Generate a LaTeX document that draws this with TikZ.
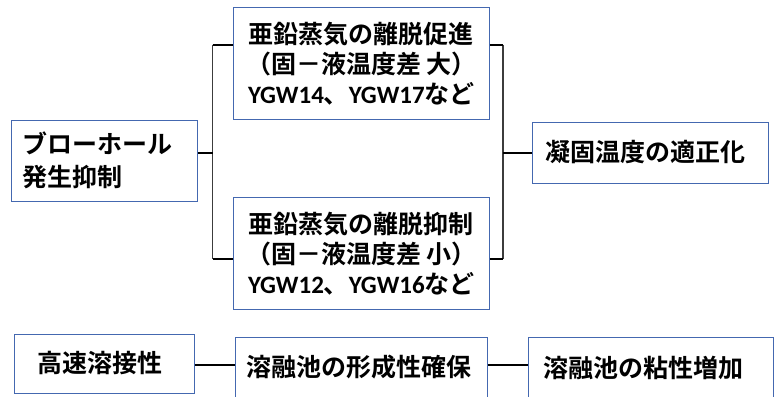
\documentclass[tikz,border=0pt]{standalone}
\usepackage{fontspec}
\setmainfont{Noto Sans CJK JP}[BoldFont={* Bold}]
\newfontfamily\lat{Carlito}[BoldFont={* Bold}]
\definecolor{boxblue}{RGB}{68,104,176}
\definecolor{vline}{RGB}{60,60,60}
\tikzset{
  box/.style={draw=boxblue, line width=1pt, rectangle, inner sep=0pt, font=\fontsize{25}{30}\selectfont\bfseries},
  stub/.style={line width=2pt, black},
  vbar/.style={line width=1.1pt, vline},
}
\begin{document}
\begin{tikzpicture}[x=1pt,y=-1pt]
\useasboundingbox (0,0) rectangle (781,396);
\clip (0,0) rectangle (781,396);
% boxes
\node[box, minimum width=186.5, minimum height=80.5, text width=164, align=left] (L) at (104.25,160.75)
  {ブローホール\\[3pt]発生抑制};
\node[box, minimum width=256, minimum height=111.7, align=center] (T) at (361.4,63.2)
  {亜鉛蒸気の離脱促進\\（固－液温度差 大）\\{\lat\bfseries YGW14}、{\lat\bfseries YGW17}など};
\node[box, minimum width=256, minimum height=111.7, align=center] (B) at (361.4,253.2)
  {亜鉛蒸気の離脱抑制\\（固－液温度差 小）\\{\lat\bfseries YGW12}、{\lat\bfseries YGW16}など};
\node[box, minimum width=236, minimum height=61] (R) at (650,152.5) {凝固温度の適正化\hspace*{10pt}};
\node[box, minimum width=180.5, minimum height=59] (H) at (104.25,363.5) {\hspace*{-8pt}高速溶接性};
\node[box, minimum width=252, minimum height=61, text width=230, align=left] (M) at (361,367.5) {溶融池の形成性確保};
\node[box, minimum width=245, minimum height=61, text width=215, align=left] (P) at (650.5,367.5) {溶融池の粘性増加};
% junction coordinates
\coordinate (jl) at (212.5,152.5);
\coordinate (jt) at (212.5,44.7);
\coordinate (jb) at (212.5,259);
\coordinate (rt) at (503,44.7);
\coordinate (rb) at (503,258.5);
\coordinate (rm) at (503,153);
\coordinate (by) at (215,365);
% connectors
\draw[vbar] (jt) -- (jb);
\draw[vbar] (rt) -- (rb);
\draw[stub] (L.east |- jl) -- (jl);
\draw[stub] (jt) -- (jt -| T.west);
\draw[stub] (jb) -- (jb -| B.west);
\draw[stub] (T.east |- rt) -- (rt);
\draw[stub] (B.east |- rb) -- (rb);
\draw[stub] (rm) -- (rm -| R.west);
\draw[stub] (H.east |- by) -- (by -| M.west);
\draw[stub] (M.east |- by) -- (by -| P.west);
\end{tikzpicture}
\end{document}
